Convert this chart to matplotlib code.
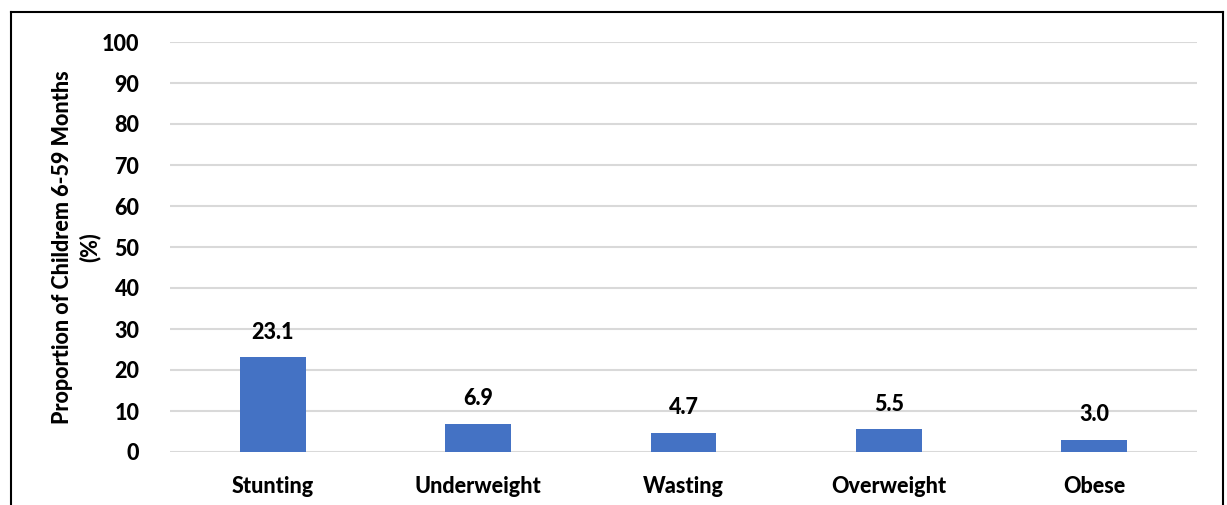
import matplotlib.pyplot as plt
from matplotlib.lines import Line2D

categories = ["Stunting", "Underweight", "Wasting", "Overweight", "Obese"]
values = [23.1, 6.9, 4.7, 5.5, 3.0]
yticks = [0, 10, 20, 30, 40, 50, 60, 70, 80, 90, 100]

plt.rcParams['font.family'] = ['Lato', 'DejaVu Sans']
FS = 15.5
WT = 900

W, H = 1227, 505
fig = plt.figure(figsize=(W / 100, H / 100), dpi=100)
ax = fig.add_axes([170 / W, 1 - 452 / H, (1197 - 170) / W, (452 - 42) / H])

x = range(len(categories))
ax.bar(x, values, width=0.32, color="#4472C4", zorder=3)
for xi, v in zip(x, values):
    ax.text(xi, v + 3.5, f"{v:.1f}", ha="center", va="bottom",
            fontsize=FS, fontweight=WT)

ax.set_xlim(-0.5, len(categories) - 0.5)
ax.set_ylim(0, 100)
ax.set_yticks(yticks)
ax.set_xticks(list(x))
ax.set_xticklabels(categories, fontsize=FS, fontweight=WT)
ax.tick_params(axis="y", labelsize=FS, length=0, pad=22)
ax.tick_params(axis="x", length=0, pad=17)
for lbl in ax.get_yticklabels():
    lbl.set_fontweight(WT)
ax.grid(axis="y", color="#d9d9d9", linewidth=1.5, zorder=0)
for s in ax.spines.values():
    s.set_visible(False)

ax.set_ylabel("Proportion of Childrem 6-59 Months\n(%)", fontsize=FS,
              fontweight=WT, labelpad=1, linespacing=1.3)

# outer frame (bottom edge is cut off in the reference)
l, r, t = 11 / W, 1223 / W, 1 - 12 / H
for xs, ys in [([l, l], [-0.1, t]), ([l, r], [t, t]), ([r, r], [t, -0.1])]:
    fig.add_artist(Line2D(xs, ys, transform=fig.transFigure, color="black", lw=1.5))

fig.savefig("out.png", dpi=100)
